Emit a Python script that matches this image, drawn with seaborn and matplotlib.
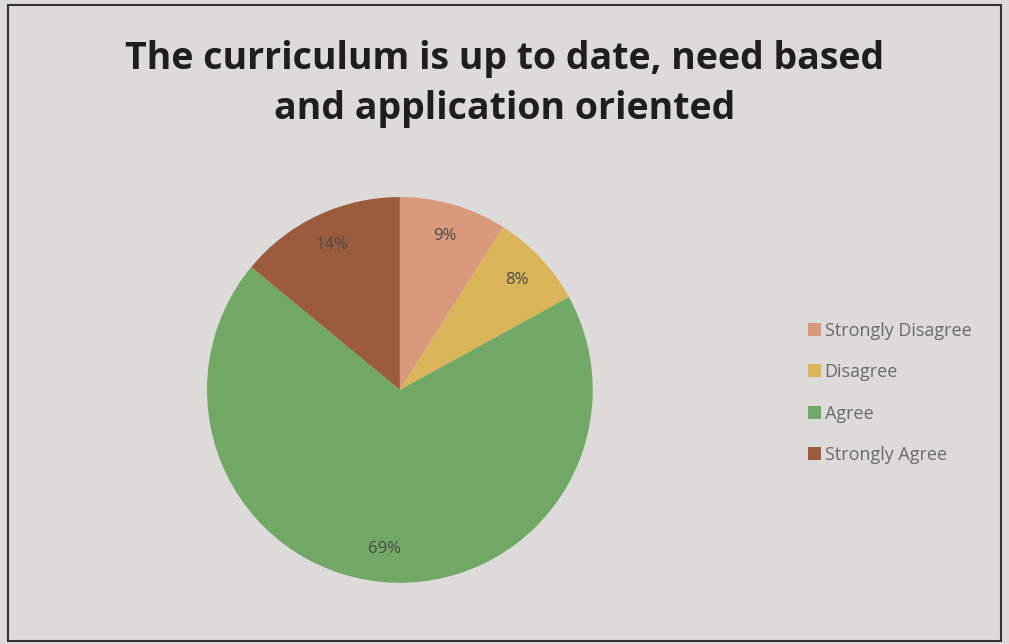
import matplotlib
matplotlib.use("Agg")
import matplotlib.pyplot as plt
import seaborn as sns
from matplotlib.patches import Rectangle

categories = ['Strongly Disagree', 'Disagree', 'Agree', 'Strongly Agree']
valores = [9, 8, 69, 14]
colores = ['#d99a7c', '#d9b458', '#72a865', '#9b5c3e']
titulo = 'The curriculum is up to date, need based\nand application oriented'

sns.set_style('white')
plt.rcParams['font.family'] = ['Open Sans', 'DejaVu Sans']

fig = plt.figure(figsize=(10.09, 6.44), dpi=100)
fig.patch.set_facecolor('#dcdbd9')
# marco exterior
fig.patches.append(Rectangle((0.008, 0.005), 0.984, 0.987, transform=fig.transFigure,
                             fill=False, edgecolor='#333333', linewidth=1.5))

ax = fig.add_axes([0.205, 0.095, 0.3826, 0.599])
wedges, textos, pcts = ax.pie(valores, colors=colores, startangle=90, counterclock=False,
                              autopct='%1.0f%%', pctdistance=0.83,
                              wedgeprops=dict(linewidth=0),
                              textprops=dict(color='#4a4a4a', fontsize=12))
ax.set_xlim(-1, 1)
ax.set_ylim(-1, 1)
ax.set_aspect('equal')

fig.text(0.5, 0.869, titulo, ha='center', va='center', fontsize=27, fontweight='bold',
         color='#1e1e1e', linespacing=1.42)

leg = fig.legend(wedges, categories, loc='center left', bbox_to_anchor=(0.785, 0.39),
                 frameon=False, handlelength=0.7, handleheight=0.7, handletextpad=0.2,
                 labelspacing=1.3, fontsize=13)
for t in leg.get_texts():
    t.set_color('#6a6a6a')

fig.savefig('out.png', dpi=100, facecolor=fig.get_facecolor())
